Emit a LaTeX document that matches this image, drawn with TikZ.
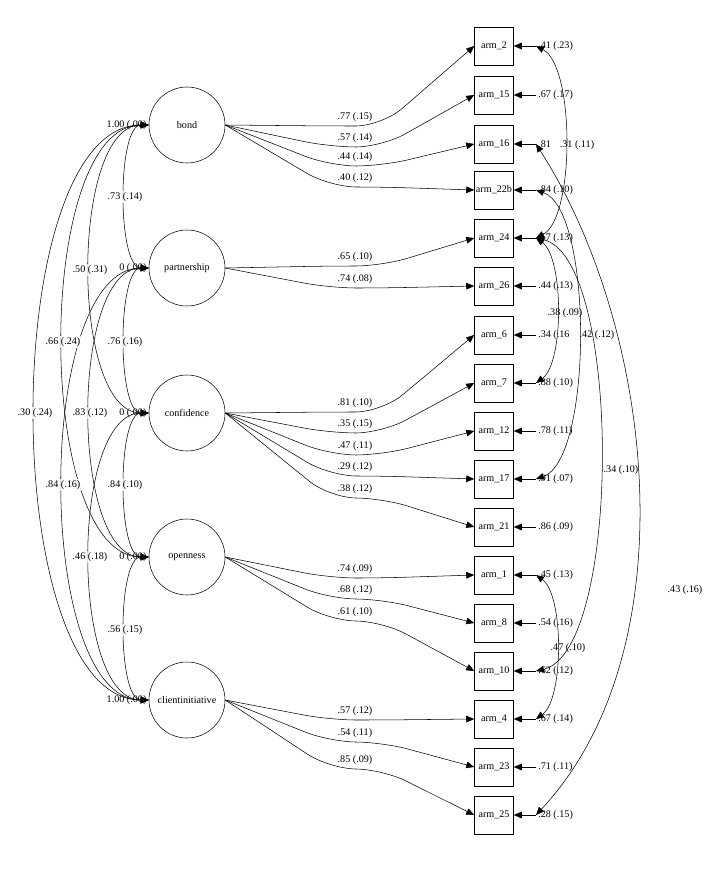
\documentclass[tikz,border=0pt]{standalone}
\usepackage{fontspec}
\setmainfont{Liberation Serif}
\usetikzlibrary{arrows.meta}
\begin{document}
\begin{tikzpicture}[x=0.75pt,y=-0.75pt,font=\fontsize{7.6}{9}\selectfont,
  lat/.style={circle,draw,minimum size=57pt,inner sep=0pt},
  obs/.style={draw,minimum width=29.25pt,minimum height=28.5pt,inner sep=0pt},
  lab/.style={inner sep=1pt},
  res/.style={inner sep=1.5pt,anchor=west},
  arr/.style={-{Triangle[length=6pt,width=5pt]}},
  cov/.style={{Triangle[length=6pt,width=5pt]}-{Triangle[length=6pt,width=5pt]}}]
\useasboundingbox (0,0) rectangle (715,885);
% latent
\node[lat] (bond) at (187,125) {bond};
\node[lat] (part) at (187,268) {partnership};
\node[lat] (conf) at (187,413) {confidence};
\node[lat] (open) at (187,557) {openness};
\node[lat] (cli) at (187,700) {clientinitiative};
% observed
\foreach \n/\y/\r in {2/46/.41 (.23),15/95/.67 (.17),16/144/.81,22b/190/.84 (.10),24/238/.57 (.13),26/286/.44 (.13),6/335/.34 (.16,7/383/.88 (.10),12/431/.78 (.11),17/479/.91 (.07),21/527/.86 (.09),1/575/.45 (.13),8/623/.54 (.16),10/671/.62 (.12),4/719/.67 (.14),23/767/.71 (.11),25/815/.28 (.15)}{
  \node[obs] (a\n) at (494,\y) {arm\_\n};
  \node[res] (e\n) at (536,\y) {\r};
  \draw[arr] (e\n.west) -- (a\n.east);
}
% loadings
\foreach \f/\t/\l/\ly in {bond/2/.77 (.15)/117,bond/15/.57 (.14)/138,bond/16/.44 (.14)/157,bond/22b/.40 (.12)/178,
 part/24/.65 (.10)/257,part/26/.74 (.08)/279,
 conf/6/.81 (.10)/403,conf/7/.35 (.15)/424,conf/12/.47 (.11)/446,conf/17/.29 (.12)/467,conf/21/.38 (.12)/489,
 open/1/.74 (.09)/569,open/8/.68 (.12)/590,open/10/.61 (.10)/612,
 cli/4/.57 (.12)/711,cli/23/.54 (.11)/733,cli/25/.85 (.09)/760}{
  \draw[arr,rounded corners=20pt] (\f.east) -- (330,\ly+9) -- (382,\ly+9) -- (a\t.west);
  \node[lab] at (355,\ly) {\l};
}
% variances
\node[lab,anchor=east] at (148,125) {1.00 (.00)};
\node[lab,anchor=east] at (148,268) {0 (.00)};
\node[lab,anchor=east] at (148,413) {0 (.00)};
\node[lab,anchor=east] at (148,557) {0 (.00)};
\node[lab,anchor=east] at (148,700) {1.00 (.00)};
% latent covariances
\foreach \a/\b/\c in {bond/part/117,bond/conf/70,bond/open/34,bond/cli/-3,
 part/conf/117,part/open/70,part/cli/34,
 conf/open/117,conf/cli/70,open/cli/117}{
  \draw[cov] (\a.west) .. controls (\c,0 |- \a.west) and (\c,0 |- \b.west) .. (\b.west);
}
\foreach \l/\lx/\ly in {.73 (.14)/125/197,.50 (.31)/90/270,.66 (.24)/63/342,.30 (.24)/35/413,.76 (.16)/125/342,.83 (.12)/90/413,.84 (.16)/63/485,.84 (.10)/125/485,.46 (.18)/90/557,.56 (.15)/125/630}{
  \node[lab,fill=white,fill opacity=0.8,text opacity=1] at (\lx,\ly) {\l};
}
% residual covariances
\foreach \a/\b/\c in {2/24/575,24/7/564,22b/17/593,24/10/622,1/4/564}{
  \draw[cov] (e\a.west) .. controls ([yshift=-15pt]\c,0 |- e\a.west) and ([yshift=15pt]\c,0 |- e\b.west) .. (e\b.west);
}
\draw[cov] (e16.west) .. controls (655,330) and (690,650) .. (e25.west);
\node[lab] at (577,145) {.31 (.11)};
\node[lab] at (565,313) {.38 (.09)};
\node[lab] at (597,335) {.42 (.12)};
\node[lab] at (621,470) {.34 (.10)};
\node[lab] at (568,648) {.47 (.10)};
\node[lab] at (685,590) {.43 (.16)};
\end{tikzpicture}
\end{document}
